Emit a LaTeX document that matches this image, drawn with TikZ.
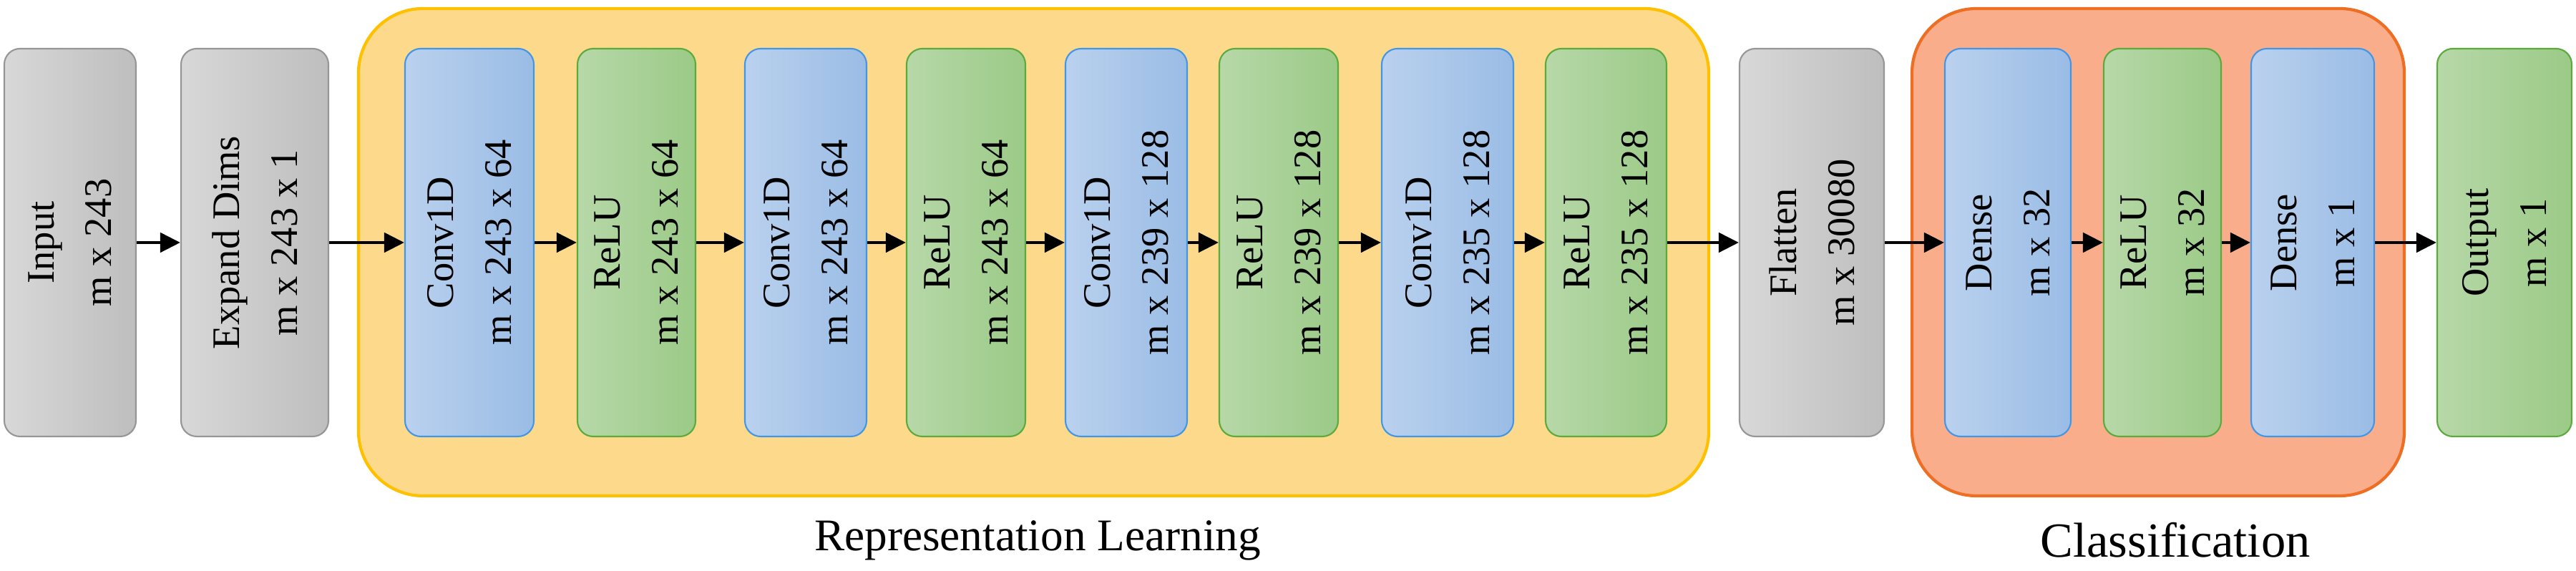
\documentclass[tikz,border=0pt]{standalone}
\usepackage{fontspec}
\setmainfont{Liberation Serif}
\usetikzlibrary{arrows.meta}
\definecolor{grayfillL}{RGB}{216,216,216}
\definecolor{grayfillR}{RGB}{190,190,190}
\definecolor{grayline}{RGB}{150,150,150}
\definecolor{bluefillL}{RGB}{186,209,238}
\definecolor{bluefillR}{RGB}{154,188,229}
\definecolor{blueline}{RGB}{66,150,230}
\definecolor{greenfillL}{RGB}{183,216,168}
\definecolor{greenfillR}{RGB}{155,202,135}
\definecolor{greenline}{RGB}{90,170,60}
\definecolor{repfill}{RGB}{253,217,140}
\definecolor{repline}{RGB}{255,192,0}
\definecolor{clsfill}{RGB}{249,173,138}
\definecolor{clsline}{RGB}{238,110,35}

\begin{document}
\begin{tikzpicture}[
        layer/.style={rotate=90, rounded corners=0.22cm, line width=0.6pt,
                      minimum width=5.42cm, minimum height=#1, inner sep=0pt,
                      align=center, font=\fontsize{15.5}{23}\selectfont},
        plain/.style={layer=#1, draw=grayline, left color=grayfillL, right color=grayfillR},
        conv/.style={layer=#1, draw=blueline, left color=bluefillL, right color=bluefillR},
        act/.style={layer=#1, draw=greenline, left color=greenfillL, right color=greenfillR},
        group/.style={rounded corners=0.9cm, line width=1.2pt},
        arr/.style={-{Triangle[length=0.28cm, width=0.27cm]}, line width=1.4pt}
      ]
      \useasboundingbox (0,0) rectangle (36,7.98);

      % the two stages
      \draw[group, draw=repline, fill=repfill] (5.01,1.05) rectangle (23.88,7.86);
      \draw[group, draw=clsline, fill=clsfill] (26.72,1.05) rectangle (33.60,7.86);

      \node[plain=1.84cm] (in) at (0.98,4.59) {Input\\m x 243};
      \node[plain=2.06cm] (ex) at (3.56,4.59) {Expand Dims\\m x 243 x 1};

      \node[conv=1.80cm] (c1) at (6.56,4.59) {Conv1D\\m x 243 x 64};
      \node[act=1.65cm] (r1) at (8.895,4.59) {ReLU\\m x 243 x 64};
      \node[conv=1.70cm] (c2) at (11.26,4.59) {Conv1D\\m x 243 x 64};
      \node[act=1.66cm] (r2) at (13.50,4.59) {ReLU\\m x 243 x 64};
      \node[conv=1.70cm] (c3) at (15.74,4.59) {Conv1D\\m x 239 x 128};
      \node[act=1.66cm] (r3) at (17.87,4.59) {ReLU\\m x 239 x 128};
      \node[conv=1.84cm] (c4) at (20.23,4.59) {Conv1D\\m x 235 x 128};
      \node[act=1.69cm] (r4) at (22.445,4.59) {ReLU\\m x 235 x 128};

      \node[plain=2.02cm] (fl) at (25.32,4.59) {Flatten\\m x 30080};

      \node[conv=1.76cm] (d1) at (28.06,4.59) {Dense\\m x 32};
      \node[act=1.64cm] (r5) at (30.22,4.59) {ReLU\\m x 32};
      \node[conv=1.72cm] (d2) at (32.32,4.59) {Dense\\m x 1};

      \node[act=1.88cm] (out) at (35.00,4.59) {Output\\m x 1};

      \foreach \a/\b in {in/ex, ex/c1, c1/r1, r1/c2, c2/r2, r2/c3, c3/r3, r3/c4,
                         c4/r4, r4/fl, fl/d1, d1/r5, r5/d2, d2/out}
        \draw[arr] (\a) -- (\b);

      \node[font=\fontsize{18}{22}\selectfont] (replbl) at (14.5,0.43) {Representation Learning};
      \node[font=\fontsize{19.5}{22}\selectfont] (clslbl) at (30.4,0.43) {Classification};
    \end{tikzpicture}
\end{document}
